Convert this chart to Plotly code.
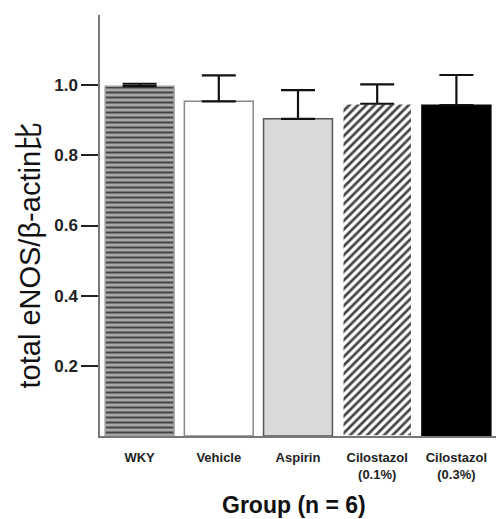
import plotly.graph_objects as go

groups = ["WKY", "Vehicle", "Aspirin", "Cilostazol<br>(0.1%)", "Cilostazol<br>(0.3%)"]
means = [0.997, 0.954, 0.904, 0.947, 0.943]
sem_upper = [0.007, 0.074, 0.082, 0.055, 0.086]
y_ticks = [0.2, 0.4, 0.6, 0.8, 1.0]
y_tick_labels = ["0.2", "0.4", "0.6", "0.8", "1.0"]

fills = ["#a8a8a8", "#ffffff", "#d9d9d9", "#ffffff", "#000000"]
outlines = ["#a0a0a0", "#888888", "#555555", "#ffffff", "#000000"]
shapes = ["-", "", "", "/", ""]
fgs = ["#4a4a4a", "#000000", "#000000", "#111111", "#000000"]

fig = go.Figure()
fig.add_trace(go.Bar(
    x=list(range(len(groups))),
    y=means,
    marker=dict(
        color=fills,
        line=dict(color=outlines, width=1.5),
        pattern=dict(shape=shapes, fgcolor=fgs, fgopacity=1, size=[5, 6, 6, 6, 6],
                     solidity=[0.4, 0.3, 0.3, 0.45, 0.3], fillmode="overlay"),
    ),
    error_y=dict(type="data", array=sem_upper, arrayminus=[0]*5, symmetric=False,
                 color="#111111", thickness=2.2, width=17),
    width=0.87,
))

fig.update_layout(
    width=496, height=519,
    margin=dict(l=100, r=0, t=15, b=83, autoexpand=False),
    plot_bgcolor="white", paper_bgcolor="white",
    showlegend=False,
    font=dict(family="Liberation Sans, Arial, Noto Sans CJK SC", color="#222222"),
    xaxis=dict(
        range=[-0.5, 4.5],
        tickvals=list(range(len(groups))), ticktext=groups,
        showline=True, linecolor="#777777", linewidth=1.5,
        ticks="", showgrid=False, zeroline=False, automargin=False,
        tickfont=dict(size=13, weight="bold", color="#222222"),
        ticklabelstandoff=9,
    ),
    yaxis=dict(
        range=[0, 1.2],
        tickvals=y_ticks, ticktext=y_tick_labels,
        showline=True, linecolor="#777777", linewidth=1.5,
        ticks="outside", ticklen=17, tickwidth=2.2, tickcolor="#222222",
        showgrid=False, zeroline=False, automargin=False,
        tickfont=dict(size=17, weight="bold", color="#222222"),
    ),
    annotations=[
        dict(text="total eNOS/β-actin比", textangle=-90, xref="paper", yref="paper",
             x=-0.178, y=0.43, xanchor="center", yanchor="middle", showarrow=False,
             font=dict(size=29, color="#111111",
                       family="Liberation Sans, Arial, Noto Sans CJK SC")),
        dict(text="Group (n = 6)", xref="paper", yref="paper",
             x=0.49, y=-0.164, xanchor="center", yanchor="middle", showarrow=False,
             font=dict(size=23, weight="bold", color="#111111")),
    ],
)

fig.write_html("out.html", config={"displayModeBar": False},
               post_script="document.body.style.margin='0';document.body.style.overflow='hidden';")
